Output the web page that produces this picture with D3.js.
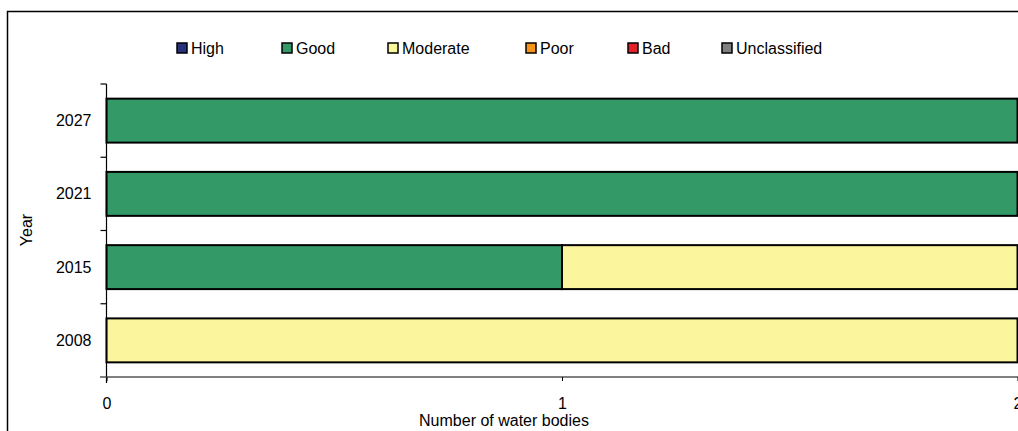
<!DOCTYPE html>
<html><head><meta charset="utf-8">
<script src="https://cdn.jsdelivr.net/npm/d3@7"></script>
<style>body{margin:0;background:#fff;}svg{display:block;font-family:"Liberation Sans",Arial,sans-serif;}</style>
</head><body>
<svg id="c" width="1018" height="431"></svg>
<script>
const years = ["2027", "2021", "2015", "2008"];
const classes = ["High", "Good", "Moderate", "Poor", "Bad", "Unclassified"];
const colors = ["#27307b", "#339966", "#fbf59d", "#f7941d", "#e3202a", "#808080"];
const high = [0, 0, 0, 0];
const good = [2, 2, 1, 0];
const moderate = [0, 0, 1, 2];
const poor = [0, 0, 0, 0];
const bad = [0, 0, 0, 0];
const unclassified = [0, 0, 0, 0];
const xTicks = [0, 1, 2];

const series = [high, good, moderate, poor, bad, unclassified];
const rows = years.map((y, i) => {
  const r = {year: y};
  classes.forEach((c, j) => r[c] = series[j][i]);
  return r;
});
const stacked = d3.stack().keys(classes)(rows);

const svg = d3.select("#c");
svg.append("rect").attr("x", 7.5).attr("y", 11.5).attr("width", 1030).attr("height", 440)
  .attr("fill", "none").attr("stroke", "#000").attr("stroke-width", 1.5);

const x = d3.scaleLinear().domain([0, 2]).range([106.5, 1017.5]);
const y = d3.scaleBand().domain(years).range([84, 377]).paddingInner(0.4).paddingOuter(0.2);

// bars
stacked.forEach((s, j) => {
  svg.append("g").selectAll("rect").data(s.filter(d => d[1] - d[0] > 0)).join("rect")
    .attr("x", d => x(d[0]))
    .attr("y", d => y(d.data.year))
    .attr("width", d => x(d[1]) - x(d[0]))
    .attr("height", y.bandwidth())
    .attr("fill", colors[j])
    .attr("stroke", "#000").attr("stroke-width", 2);
});

// x axis
const xAxis = d3.axisBottom(x).tickValues(xTicks).tickSize(4).tickFormat(d3.format("d"));
const gx = svg.append("g").attr("transform", "translate(0,377)").call(xAxis);
gx.select(".domain").attr("stroke", "#808080").attr("stroke-width", 2).attr("d", "M100,0H1018");
gx.selectAll(".tick line").attr("stroke", "#000");
gx.selectAll(".tick text").attr("font-size", 16).attr("fill", "#000").attr("dy", "1.55em")
  .style("font-family", "Liberation Sans, Arial, sans-serif");

// y axis
const gy = svg.append("g").attr("transform", "translate(106.5,0)");
gy.append("line").attr("x1", 0).attr("x2", 0).attr("y1", 84).attr("y2", 383).attr("stroke", "#000").attr("stroke-width", 1.2);
const step = (377 - 84) / years.length;
d3.range(years.length + 1).forEach(i => {
  gy.append("line").attr("x1", -6).attr("x2", 0).attr("y1", 84 + i * step).attr("y2", 84 + i * step)
    .attr("stroke", i === years.length ? "#808080" : "#000").attr("stroke-width", 1.2);
});
gy.selectAll("text.cat").data(years).join("text").attr("class", "cat")
  .attr("x", -15).attr("y", d => y(d) + y.bandwidth() / 2).attr("dy", "0.35em")
  .attr("text-anchor", "end").attr("font-size", 16).text(d => d);

// axis titles
svg.append("text").attr("x", 504).attr("y", 426).attr("text-anchor", "middle").attr("font-size", 16)
  .text("Number of water bodies");
svg.append("text").attr("transform", "translate(32,230) rotate(-90)").attr("text-anchor", "middle")
  .attr("font-size", 16).text("Year");

// legend
const legX = [177, 282, 388, 526, 628, 722];
const leg = svg.append("g");
classes.forEach((c, j) => {
  leg.append("rect").attr("x", legX[j]).attr("y", 43).attr("width", 10).attr("height", 10)
    .attr("fill", colors[j]).attr("stroke", "#000").attr("stroke-width", 1.5);
  leg.append("text").attr("x", legX[j] + 14).attr("y", 48).attr("dy", "0.35em")
    .attr("font-size", 16).text(c);
});
</script>
</body></html>
